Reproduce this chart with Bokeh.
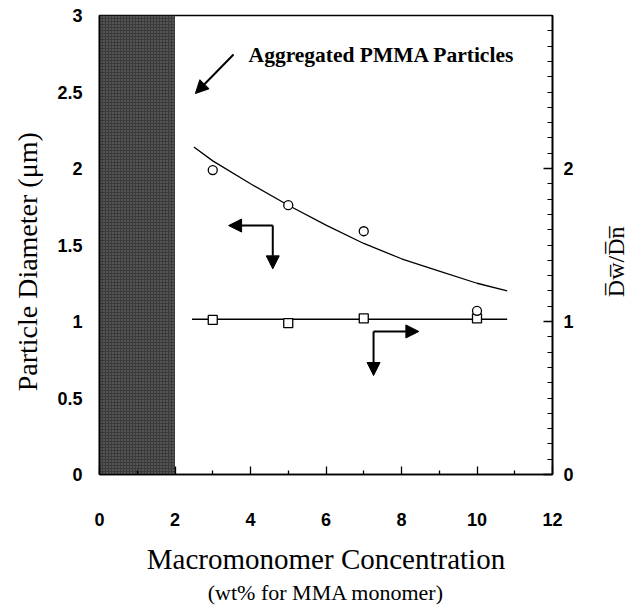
import math
from bokeh.plotting import figure
from bokeh.layouts import row
from bokeh.models import Range1d, LinearAxis, FixedTicker, NumeralTickFormatter, Arrow, NormalHead, Label, Title
from bokeh.embed import file_html
from bokeh.resources import INLINE

# ---- data ----
conc = [3, 5, 7, 10]
diameter = [1.99, 1.76, 1.59, 1.07]
dwdn = [1.01, 0.99, 1.02, 1.02]
fit_x = [2.5, 3, 4, 5, 6, 7, 8, 9, 10, 10.8]
fit_y = [2.14, 2.05, 1.90, 1.76, 1.63, 1.51, 1.41, 1.33, 1.25, 1.20]
flat_x = [2.45, 10.8]
flat_y = [1.015, 1.015]
agg_x = [0, 2]
agg_y = [0, 3]
x_ticks = [0, 2, 4, 6, 8, 10, 12]
x_minor = [1, 3, 5, 7, 9, 11]
left_ticks = [0, 0.5, 1, 1.5, 2, 2.5, 3]
right_ticks = [0, 1, 2]
right_minor = [i / 10 for i in range(1, 30) if i % 10 != 0]

SERIF = "Liberation Serif"
SANS = "Liberation Sans"

p = figure(width=592, height=606, x_range=Range1d(0, 12), y_range=Range1d(0, 3),
           output_backend="svg", toolbar_location=None,
           min_border_left=99, min_border_right=40, min_border_top=15, min_border_bottom=132)
p.grid.visible = False
p.outline_line_color = "black"
p.outline_line_width = 1.6
p.background_fill_color = "white"
p.border_fill_color = "white"

# bottom axis
xa = p.xaxis[0]
xa.ticker = FixedTicker(ticks=x_ticks, minor_ticks=x_minor)
xa.major_tick_in = 8
xa.major_tick_out = 0
xa.minor_tick_in = 4
xa.minor_tick_out = 0
xa.major_label_standoff = 38
xa.axis_line_width = 1.6
xa.major_tick_line_width = 1.3
xa.minor_tick_line_width = 1.3
xa.axis_label = "Macromonomer Concentration"
xa.axis_label_standoff = 14
xa.axis_label_text_font_size = "29px"

# left axis
ya = p.yaxis[0]
ya.ticker = FixedTicker(ticks=left_ticks)
ya.formatter = NumeralTickFormatter(format="0.[0]")
ya.major_tick_in = 0
ya.major_tick_out = 0
ya.minor_tick_line_color = None
ya.major_label_standoff = 17
ya.axis_line_width = 1.6
ya.axis_label = "Particle Diameter (\u03bcm)\u2003\u2009"
ya.axis_label_standoff = 11
ya.axis_label_text_font_size = "28px"

# right axis (ticks and numbers)
ra = LinearAxis(ticker=FixedTicker(ticks=right_ticks, minor_ticks=right_minor),
                formatter=NumeralTickFormatter(format="0"))
ra.major_tick_in = 9
ra.major_tick_out = 0
ra.minor_tick_in = 5
ra.minor_tick_out = 0
ra.major_label_standoff = 11
ra.axis_line_width = 1.6
ra.major_tick_line_width = 1.3
ra.minor_tick_line_width = 1.2
p.add_layout(ra, "right")

for ax in (xa, ya, ra):
    ax.major_label_text_font = SANS
    ax.major_label_text_font_size = "18px"
    ax.major_label_text_font_style = "bold"
    ax.major_label_text_color = "black"
    ax.axis_label_text_font = SERIF
    ax.axis_label_text_font_style = "normal"
    ax.axis_label_text_color = "black"
    ax.axis_line_color = "black"

p.add_layout(Title(text="(wt% for MMA monomer)", align="center", text_font=SERIF,
                   text_font_size="22px", text_font_style="normal", text_color="black",
                   standoff=0), "below")

# aggregated region
p.quad(left=agg_x[0], right=agg_x[1], bottom=agg_y[0], top=agg_y[1],
       fill_color="#3a3a3a", line_color=None,
       hatch_pattern="dot", hatch_color="#7a7a7a", hatch_scale=3, hatch_weight=1)

# curves and markers
p.line(fit_x, fit_y, line_color="black", line_width=1.3)
p.line(flat_x, flat_y, line_color="black", line_width=1.6)
p.scatter(conc, dwdn, marker="square", size=9, fill_color="white",
          line_color="black", line_width=1.3)
p.scatter(conc, diameter, marker="circle", size=9, fill_color="white",
          line_color="black", line_width=1.3)

def head():
    return NormalHead(size=13, fill_color="black", line_color="black")

p.add_layout(Arrow(x_start=3.55, y_start=2.745, x_end=2.54, y_end=2.49,
                   end=head(), line_width=2, line_color="black"))
p.add_layout(Arrow(x_start=4.59, y_start=1.627, x_end=3.42, y_end=1.627,
                   end=head(), line_width=2, line_color="black"))
p.add_layout(Arrow(x_start=4.59, y_start=1.627, x_end=4.59, y_end=1.344,
                   end=head(), line_width=2, line_color="black"))
p.add_layout(Arrow(x_start=7.26, y_start=0.935, x_end=8.46, y_end=0.935,
                   end=head(), line_width=2, line_color="black"))
p.add_layout(Arrow(x_start=7.26, y_start=0.935, x_end=7.26, y_end=0.647,
                   end=head(), line_width=2, line_color="black"))

p.add_layout(Label(x=3.95, y=2.74, text="Aggregated PMMA Particles",
                   text_font=SERIF, text_font_size="21.5px", text_font_style="bold",
                   text_color="black", text_baseline="middle", text_align="left"))

# narrow strip at the right carrying the right-hand axis title
q = figure(width=40, height=606, x_range=Range1d(0, 1), y_range=Range1d(0, 3),
           output_backend="svg", toolbar_location=None,
           x_axis_location=None, y_axis_location=None,
           min_border=0, min_border_left=0, min_border_right=0,
           min_border_top=15, min_border_bottom=132)
q.grid.visible = False
q.outline_line_color = None
q.background_fill_color = "white"
q.border_fill_color = "white"
q.add_layout(Label(x=0.575, y=1.39, angle=math.pi / 2, text="D\u0305w\u0305/D\u0305n\u0305",
                   text_font=SERIF, text_font_size="24px", text_color="black",
                   text_baseline="middle", text_align="center"))

layout = row(p, q)
open("out.html", "w").write(file_html(layout, INLINE))
